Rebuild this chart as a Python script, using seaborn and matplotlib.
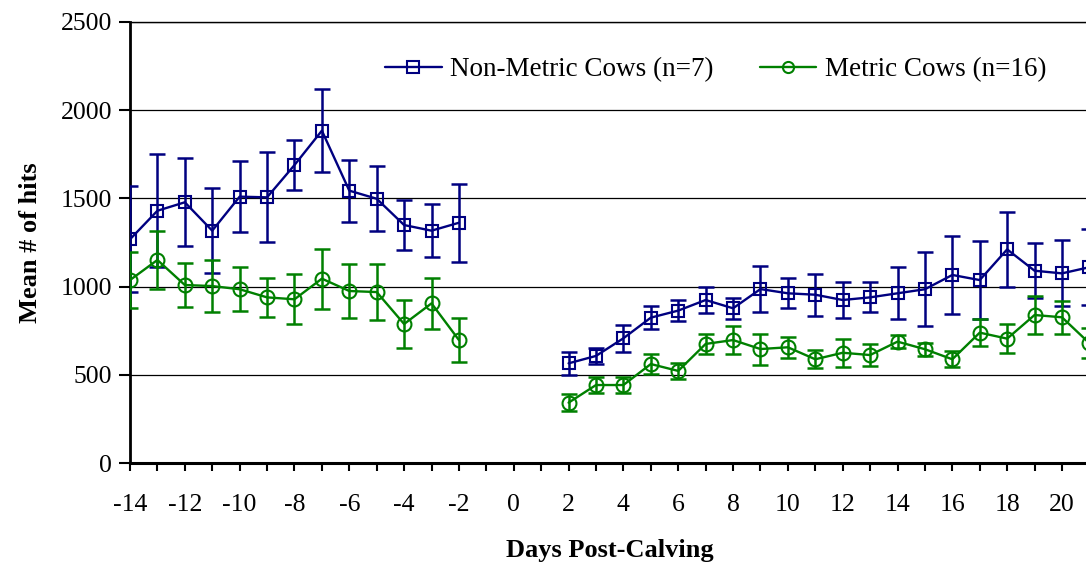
import numpy as np
import pandas as pd
import matplotlib
matplotlib.use('Agg')
import matplotlib.pyplot as plt
import seaborn as sns
from matplotlib.lines import Line2D

# Data (mean and error bar half-width)
days_pre = [-14, -13, -12, -11, -10, -9, -8, -7, -6, -5, -4, -3, -2]
days_post = [2, 3, 4, 5, 6, 7, 8, 9, 10, 11, 12, 13, 14, 15, 16, 17, 18, 19, 20, 21]

nonmet_pre = [1268, 1430, 1478, 1317, 1510, 1506, 1689, 1884, 1544, 1498, 1349, 1317, 1362]
nonmet_pre_err = [300, 320, 250, 240, 200, 255, 140, 235, 175, 185, 142, 152, 220]
nonmet_post = [565, 607, 707, 824, 864, 924, 877, 986, 962, 954, 924, 939, 962, 985, 1066, 1037, 1211, 1090, 1075, 1110]
nonmet_post_err = [65, 45, 75, 65, 60, 75, 60, 130, 85, 120, 100, 85, 147, 210, 220, 222, 211, 157, 187, 215]

met_pre = [1037, 1151, 1009, 1003, 985, 939, 928, 1045, 975, 969, 788, 905, 697]
met_pre_err = [160, 165, 125, 148, 125, 112, 142, 170, 152, 157, 135, 145, 124]
met_post = [342, 442, 442, 561, 522, 675, 697, 646, 656, 588, 625, 612, 688, 645, 588, 739, 705, 839, 826, 679]
met_post_err = [50, 48, 48, 58, 45, 55, 78, 88, 60, 50, 78, 60, 38, 37, 45, 75, 82, 105, 92, 85]

labels = ['Non-Metric Cows (n=7)', 'Metric Cows (n=16)']
colors = {'nonmet': '#000080', 'met': '#008000'}

rows = []
for d, v, e in zip(days_pre, nonmet_pre, nonmet_pre_err):
    rows.append(('nonmet', 'pre', d, v, e))
for d, v, e in zip(days_post, nonmet_post, nonmet_post_err):
    rows.append(('nonmet', 'post', d, v, e))
for d, v, e in zip(days_pre, met_pre, met_pre_err):
    rows.append(('met', 'pre', d, v, e))
for d, v, e in zip(days_post, met_post, met_post_err):
    rows.append(('met', 'post', d, v, e))
df = pd.DataFrame(rows, columns=['group', 'segment', 'day', 'hits', 'err'])

sns.set_style('white')
plt.rcParams['font.family'] = ['Liberation Serif', 'DejaVu Serif']
plt.rcParams['axes.unicode_minus'] = False
for k in ['text.color', 'axes.labelcolor', 'xtick.color', 'ytick.color']:
    plt.rcParams[k] = 'black'

fig = plt.figure(figsize=(10.86, 5.62), dpi=100)
ax = fig.add_axes([130 / 1086, 99 / 562, 986.8 / 1086, 441 / 562])

styles = {'nonmet': dict(marker='s', ms=9), 'met': dict(marker='o', ms=10)}
for g in ['nonmet', 'met']:
    sub = df[df['group'] == g]
    c = colors[g]
    ax.errorbar(sub['day'], sub['hits'], yerr=sub['err'], fmt='none',
                ecolor=c, elinewidth=1.8, capsize=6, capthick=1.8, zorder=3)
    sns.lineplot(data=sub, x='day', y='hits', units='segment', estimator=None,
                 color=c, lw=1.7, marker=styles[g]['marker'], ms=styles[g]['ms'],
                 markerfacecolor='none', markeredgecolor=c, markeredgewidth=1.5,
                 ax=ax, zorder=4, legend=False)

ax.set_xlim(-14, 22)
ax.set_ylim(0, 2500)
ax.set_xticks(np.arange(-14, 22, 2))
ax.set_xticks(np.arange(-14, 23, 1), minor=True)
ax.set_yticks(np.arange(0, 2501, 500))
ax.yaxis.grid(True, color='black', lw=0.9)
ax.set_axisbelow(True)

ax.spines['right'].set_visible(False)
ax.spines['top'].set_linewidth(1.0)
ax.spines['left'].set_linewidth(2.0)
ax.spines['bottom'].set_linewidth(2.2)
for s in ['left', 'bottom', 'top']:
    ax.spines[s].set_color('black')

ax.tick_params(axis='y', which='major', direction='out', length=8, width=1.5,
               labelsize=18.5, pad=5, left=True)
ax.tick_params(axis='x', which='both', direction='out', length=6, width=1.5,
               labelsize=18.5, pad=16, bottom=True)

ax.set_xlabel('Days Post-Calving', fontsize=19, fontweight='bold')
ax.set_ylabel('Mean # of hits', fontsize=19, fontweight='bold')
ax.xaxis.set_label_coords(480 / 986.8, -76 / 441)
ax.yaxis.set_label_coords(-88 / 986.8, 0.5)

handles = [
    Line2D([], [], color=colors['nonmet'], lw=1.7, marker='s', ms=8,
           markerfacecolor='none', markeredgewidth=1.5),
    Line2D([], [], color=colors['met'], lw=1.7, marker='o', ms=8,
           markerfacecolor='none', markeredgewidth=1.5),
]
fig.legend(handles, labels, loc='center left', bbox_to_anchor=(385 / 1086, 1 - 70 / 562),
           ncol=2, frameon=False, fontsize=19.5, handlelength=2.1, handletextpad=0.3,
           columnspacing=1.7, borderpad=0, borderaxespad=0)

plt.savefig('out.png', dpi=100)
plt.close()
